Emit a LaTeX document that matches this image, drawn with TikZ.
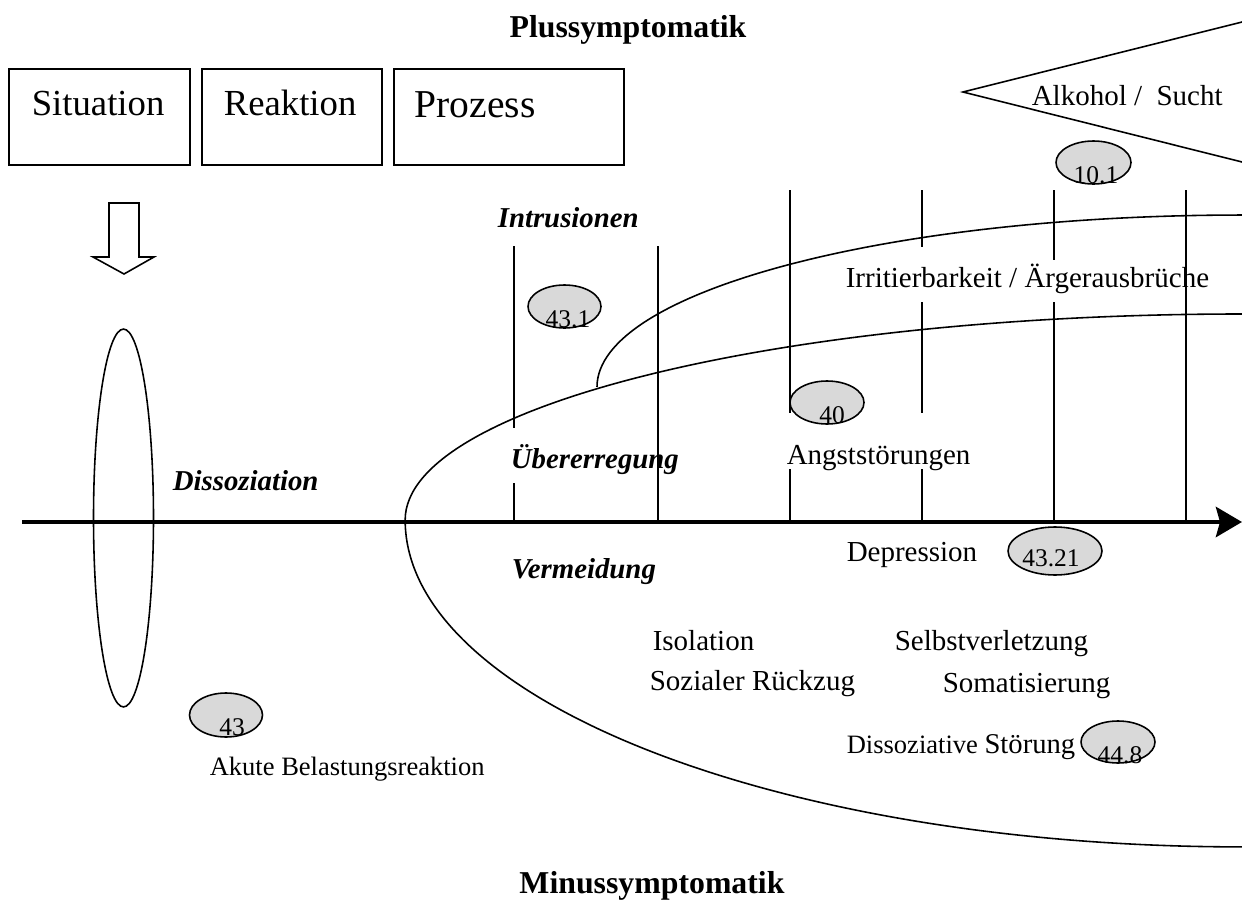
\documentclass[tikz,border=0pt]{standalone}
\usepackage{fontspec}
\setmainfont{Liberation Serif}
\usetikzlibrary{shapes,arrows.meta,positioning}

\begin{document}
\begin{tikzpicture}[x=0.02cm, y=-0.02cm, line width=0.9pt]
  \tikzstyle{box} =      [rectangle, draw, minimum height=1.92cm, inner sep=0pt, outer sep=0pt]
  \tikzstyle{boxtext} =  [font=\fontsize{20.9}{24}\selectfont, inner sep=0pt, anchor=base west]
  \tikzstyle{head} =     [font=\fontsize{18.1}{22}\selectfont\bfseries, inner sep=0pt, anchor=base]
  \tikzstyle{group} =    [font=\fontsize{16.4}{20}\selectfont\bfseries\itshape, inner sep=0pt, anchor=base west]
  \tikzstyle{symp} =     [font=\fontsize{16.5}{20}\selectfont, inner sep=0pt, anchor=base west]
  \tikzstyle{small} =    [font=\fontsize{15.1}{18}\selectfont, inner sep=0pt, anchor=base west]
  \tikzstyle{code} =     [ellipse, draw, fill=gray!30, minimum width=1.48cm, minimum height=0.86cm, inner sep=0pt]
  \tikzstyle{codetext} = [font=\fontsize{14.5}{16}\selectfont, inner sep=0pt, anchor=base]
  \tikzstyle{line} =     [draw, line width=0.9pt]
  \tikzstyle{axis} =     [draw, line width=2.8pt, -{Stealth[length=5.2mm, width=6mm, inset=0.8mm]}]

  \useasboundingbox (0,0) rectangle (1242,906);
  % Place nodes
  \node [head] (plus) at (628,37) {Plussymptomatik};
  \node [head] (minus) at (652,893) {Minussymptomatik};
  \node [box, minimum width=3.62cm, anchor=north west] (situation) at (9,69) {};
  \node [box, minimum width=3.6cm, right=0.24cm of situation] (reaktion) {};
  \node [box, minimum width=4.6cm, right=0.24cm of reaktion] (prozess) {};
  \node [boxtext] (situation-t) at (31,115) {Situation};
  \node [boxtext] (reaktion-t) at (223,115) {Reaktion};
  \node [boxtext, font=\fontsize{22.5}{26}\selectfont] (prozess-t) at (414,117) {Prozess};

  % ticks on the time axis
  \foreach \x/\a/\b in {514/246/428, 514/483/522, 658/246/522, 790/190/413, 790/469/522,
                        922/190/247, 922/302/413, 922/469/522, 1054/190/260, 1054/302/522, 1186/190/522}
    \path [line] (\x,\a) -- (\x,\b);

  % course of the disorders
  \coordinate (outer-top) at (1242,314);
  \coordinate (inner-start) at (597,387);
  \path [line] (outer-top) arc [start angle=90, end angle=180, x radius=16.74cm, y radius=4.12cm]
    arc [start angle=180, end angle=270, x radius=16.74cm, y radius=6.54cm];
  \path [line] (inner-start) arc [start angle=180, end angle=90, x radius=12.9cm, y radius=3.44cm];

  % Alkohol wedge
  \coordinate (wedge) at (963,92);
  \coordinate (wedge-up) at (1242,22);
  \coordinate (wedge-down) at (1242,162);
  \path [line] (wedge-up) -- (wedge) -- (wedge-down);

  % hollow arrow below Situation
  \path [line] (109,203) -- (139,203) -- (139,257) -- (154,257) -- (124,274) -- (93,257) -- (109,257) -- cycle;

  \node [ellipse, draw, minimum width=1.2cm, minimum height=7.56cm, inner sep=0pt] (dissoc) at (123.5,518) {};

  \coordinate (axis-start) at (22,522);
  \coordinate (axis-end) at (1242,522);
  \path [axis] (axis-start) -- (axis-end);

  % ICD codes
  \node [code, minimum width=1.46cm] (c431) at (564.5,306.5) {};
  \node [code] (c40) at (827,402.5) {};
  \node [code, minimum width=1.88cm, minimum height=0.96cm] (c4321) at (1055,551) {};
  \node [code, minimum width=1.5cm] (c101) at (1093.5,162.5) {};
  \node [code, minimum height=0.84cm] (c448) at (1118,742) {};
  \node [code, minimum width=1.46cm, minimum height=0.88cm] (c43) at (226,715) {};
  \node [codetext] (c431-t) at (568,327) {43.1};
  \node [codetext] (c40-t) at (832,423) {40};
  \node [codetext] (c4321-t) at (1051,566) {43.21};
  \node [codetext] (c101-t) at (1096,183) {10.1};
  \node [codetext] (c448-t) at (1120,763) {44.8};
  \node [codetext] (c43-t) at (232,735) {43};

  % labels
  \node [group] (intrusion) at (497,227) {Intrusionen};
  \node [group] (arousal) at (510,468) {Übererregung};
  \node [group] (avoid) at (511,578) {Vermeidung};
  \node [group] (dissoc-t) at (172,490) {Dissoziation};
  \node [symp] (alcohol) at (1031,105) {Alkohol / \ Sucht};
  \node [symp] (anger) at (845,287) {Irritierbarkeit / Ärgerausbrüche};
  \node [symp] (anxiety) at (786,464) {Angststörungen};
  \node [symp] (depress) at (846,561) {Depression};
  \node [symp] (isolation) at (652,650) {Isolation};
  \node [symp] (retreat) at (649,690) {Sozialer Rückzug};
  \node [symp] (selfharm) at (894,650) {Selbstverletzung};
  \node [symp] (somat) at (942,692) {Somatisierung};
  \node [small] (dissdis) at (846,753) {Dissoziative {\fontsize{16.3}{20}\selectfont Störung}};
  \node [small] (acute) at (209,775) {Akute Belastungsreaktion};
\end{tikzpicture}
\end{document}
